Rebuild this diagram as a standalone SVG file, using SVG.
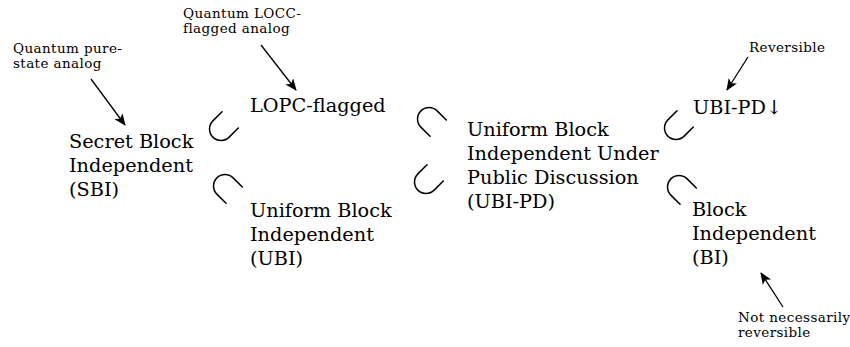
<svg xmlns="http://www.w3.org/2000/svg" width="850" height="347" viewBox="0 0 850 347">
<style>
.big{font-family:"DejaVu Serif","Liberation Serif",serif;font-size:19.3px;fill:#000}
.small{font-family:"DejaVu Serif","Liberation Serif",serif;font-size:13.5px;letter-spacing:0.4px;fill:#000}
.arr{stroke:#000;stroke-width:1.3;fill:none;marker-end:url(#ah)}
.sub{stroke:#000;stroke-width:1.5;fill:none;stroke-linecap:round}
</style>
<defs>
<marker id="ah" viewBox="0 0 12 10" refX="11" refY="5" markerWidth="13" markerHeight="10" markerUnits="userSpaceOnUse" orient="auto">
<path d="M0,0 L12,5 L0,10 L3,5 Z" fill="#000"/>
</marker>
<path id="subset" d="M 13,-11.5 H 0 A 11.5 11.5 0 0 0 0,11.5 H 13"/>
</defs>
<rect width="850" height="347" fill="#fff"/>
<g id="sbi"><text class="big" x="69" y="148">Secret Block</text><text class="big" x="69" y="172">Independent</text><text class="big" x="69" y="196">(SBI)</text></g>
<g id="lopc"><text class="big" x="250" y="112">LOPC-flagged</text></g>
<g id="ubi"><text class="big" x="250" y="217">Uniform Block</text><text class="big" x="250" y="241">Independent</text><text class="big" x="250" y="265">(UBI)</text></g>
<g id="ubipd"><text class="big" x="467" y="136">Uniform Block</text><text class="big" x="467" y="160">Independent Under</text><text class="big" x="467" y="184">Public Discussion</text><text class="big" x="467" y="208">(UBI-PD)</text></g>
<g id="ubipddown"><text class="big" x="693" y="114">UBI-PD↓</text></g>
<g id="bi"><text class="big" x="692" y="216">Block</text><text class="big" x="692" y="240">Independent</text><text class="big" x="692" y="264">(BI)</text></g>
<g id="note-pure"><text class="small" x="13" y="53">Quantum pure-</text><text class="small" x="13" y="68">state analog</text></g>
<g id="note-locc"><text class="small" x="183" y="18">Quantum LOCC-</text><text class="small" x="183" y="33">flagged analog</text></g>
<g id="note-rev"><text class="small" x="749" y="52">Reversible</text></g>
<g id="note-notrev"><text class="small" x="738" y="322">Not necessarily</text><text class="small" x="738" y="337">reversible</text></g>
<g id="connectors">
<line class="arr" x1="91" y1="79" x2="125" y2="125"/>
<line class="arr" x1="261" y1="45" x2="296" y2="90"/>
<line class="arr" x1="748" y1="57" x2="727" y2="90"/>
<line class="arr" x1="783" y1="307" x2="761" y2="273"/>
<use href="#subset" class="sub" transform="translate(221,129) rotate(-45)"/>
<use href="#subset" class="sub" transform="translate(225,186) rotate(45)"/>
<use href="#subset" class="sub" transform="translate(429,119) rotate(45)"/>
<use href="#subset" class="sub" transform="translate(426,182) rotate(-45)"/>
<use href="#subset" class="sub" transform="translate(676,128) rotate(-45)"/>
<use href="#subset" class="sub" transform="translate(679,187) rotate(45)"/>
</g>
</svg>
